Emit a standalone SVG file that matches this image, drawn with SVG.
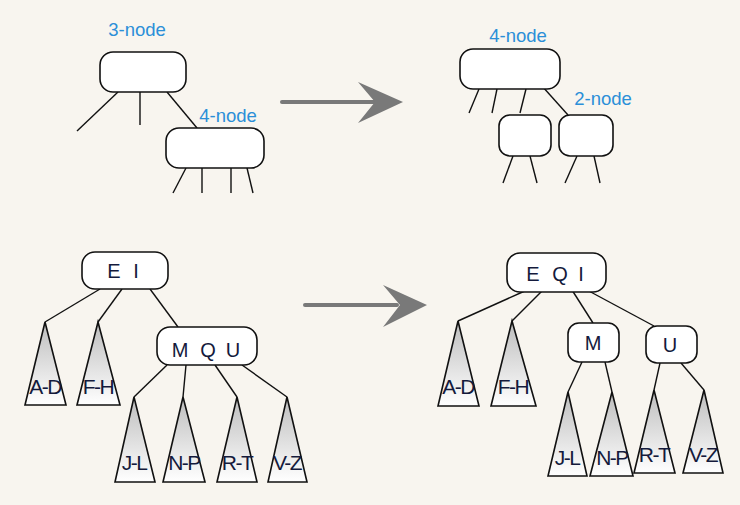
<svg xmlns="http://www.w3.org/2000/svg" width="740" height="505" viewBox="0 0 740 505">
<style>
.bg{fill:#f8f5ef}
.box{fill:#ffffff;stroke:#111;stroke-width:1.6}
.tri{fill:url(#g);stroke:#111;stroke-width:1.6;stroke-linejoin:miter}
.ln{stroke:#111;stroke-width:1.4;fill:none}
.lbl{font-family:"Liberation Sans",Arial,sans-serif;font-size:18.5px;fill:#2b8fd8;text-anchor:middle}
.key{font-family:"Liberation Sans",Arial,sans-serif;font-size:20px;fill:#141a3c;text-anchor:middle}
.rng{font-family:"Liberation Sans",Arial,sans-serif;font-size:21px;fill:#141a3c;text-anchor:middle;letter-spacing:-1.5px}
.arr{fill:#797979}
</style>
<defs>
<linearGradient id="g" x1="0" y1="0" x2="0" y2="1">
<stop offset="0" stop-color="#bdbdbd"/>
<stop offset="1" stop-color="#ffffff"/>
</linearGradient>
</defs>
<rect class="bg" x="0" y="0" width="740" height="505"/>

<g id="connectors">
<line class="ln" x1="118" y1="92" x2="77" y2="131"/>
<line class="ln" x1="140" y1="92" x2="140" y2="125"/>
<line class="ln" x1="167" y1="92" x2="197" y2="128"/>
<line class="ln" x1="186" y1="168" x2="173" y2="193"/>
<line class="ln" x1="202" y1="168" x2="202" y2="193"/>
<line class="ln" x1="231" y1="168" x2="231" y2="193"/>
<line class="ln" x1="247" y1="168" x2="253" y2="193"/>
<line class="ln" x1="479" y1="89" x2="469" y2="113"/>
<line class="ln" x1="497" y1="89" x2="492" y2="113"/>
<line class="ln" x1="526" y1="89" x2="520" y2="113"/>
<line class="ln" x1="542" y1="86" x2="568" y2="115"/>
<line class="ln" x1="513" y1="156" x2="503" y2="183"/>
<line class="ln" x1="530" y1="156" x2="537" y2="183"/>
<line class="ln" x1="577" y1="156" x2="565" y2="183"/>
<line class="ln" x1="594" y1="156" x2="600" y2="183"/>
<line class="ln" x1="100" y1="289" x2="45" y2="322"/>
<line class="ln" x1="122" y1="289" x2="98" y2="322"/>
<line class="ln" x1="150" y1="289" x2="178" y2="327"/>
<line class="ln" x1="167" y1="365" x2="134" y2="397"/>
<line class="ln" x1="186" y1="365" x2="183" y2="397"/>
<line class="ln" x1="215" y1="365" x2="237" y2="397"/>
<line class="ln" x1="242" y1="365" x2="287" y2="397"/>
<line class="ln" x1="527" y1="290" x2="458" y2="321"/>
<line class="ln" x1="543" y1="290" x2="512" y2="321"/>
<line class="ln" x1="572" y1="290" x2="593" y2="323"/>
<line class="ln" x1="587" y1="290" x2="654" y2="326"/>
<line class="ln" x1="582" y1="362" x2="568" y2="392"/>
<line class="ln" x1="605" y1="362" x2="612" y2="392"/>
<line class="ln" x1="660" y1="363" x2="654" y2="390"/>
<line class="ln" x1="681" y1="363" x2="704" y2="390"/>
<rect class="arr" x="280" y="100" width="96" height="4" rx="2"/>
<polygon class="arr" points="358,82 403,102 358,123 375,102"/>
<rect class="arr" x="303" y="303" width="96" height="4" rx="2"/>
<polygon class="arr" points="383,285 427,305 383,327 400,305"/>
</g>

<g id="label-3node"><text class="lbl" x="137" y="36">3-node</text></g>
<g id="node-3node"><rect class="box" x="100" y="52" width="86" height="40" rx="13"/></g>
<g id="label-4node-a"><text class="lbl" x="228" y="122">4-node</text></g>
<g id="node-4node-a"><rect class="box" x="166" y="128" width="98" height="40" rx="13"/></g>

<g id="label-4node-b"><text class="lbl" x="518" y="42">4-node</text></g>
<g id="node-4node-b"><rect class="box" x="460" y="49" width="100" height="40" rx="13"/></g>
<g id="node-left-small"><rect class="box" x="499" y="115" width="52" height="41" rx="11"/></g>
<g id="label-2node"><text class="lbl" x="603" y="105">2-node</text></g>
<g id="node-2node"><rect class="box" x="559" y="115" width="54" height="41" rx="11"/></g>

<g id="node-EI">
<rect class="box" x="82" y="252" width="86" height="37" rx="13"/>
<text class="key" x="114" y="278">E</text><text class="key" x="136" y="278">I</text>
</g>
<g id="tri-AD-l"><polygon class="tri" points="45,322 25,405 66,405"/><text class="rng" x="45" y="394">A-D</text></g>
<g id="tri-FH-l"><polygon class="tri" points="98,322 77,405 120,405"/><text class="rng" x="98" y="394">F-H</text></g>
<g id="node-MQU">
<rect class="box" x="157" y="327" width="100" height="38" rx="13"/>
<text class="key" x="180" y="357">M</text><text class="key" x="208" y="357">Q</text><text class="key" x="233" y="357">U</text>
</g>
<g id="tri-JL-l"><polygon class="tri" points="134,397 115,482 155,482"/><text class="rng" x="134" y="470">J-L</text></g>
<g id="tri-NP-l"><polygon class="tri" points="183,397 163,482 205,482"/><text class="rng" x="184" y="470">N-P</text></g>
<g id="tri-RT-l"><polygon class="tri" points="237,397 217,482 257,482"/><text class="rng" x="237" y="470">R-T</text></g>
<g id="tri-VZ-l"><polygon class="tri" points="287,397 268,482 307,482"/><text class="rng" x="287" y="470">V-Z</text></g>

<g id="node-EQI">
<rect class="box" x="507" y="253" width="99" height="39" rx="13"/>
<text class="key" x="533" y="281">E</text><text class="key" x="560" y="281">Q</text><text class="key" x="581" y="281">I</text>
</g>
<g id="tri-AD-r"><polygon class="tri" points="458,321 438,406 479,406"/><text class="rng" x="458" y="394">A-D</text></g>
<g id="tri-FH-r"><polygon class="tri" points="512,321 491,406 536,406"/><text class="rng" x="513" y="394">F-H</text></g>
<g id="node-M">
<rect class="box" x="568" y="323" width="51" height="39" rx="11"/>
<text class="key" x="593" y="350">M</text>
</g>
<g id="node-U">
<rect class="box" x="646" y="326" width="51" height="37" rx="11"/>
<text class="key" x="670" y="352">U</text>
</g>
<g id="tri-JL-r"><polygon class="tri" points="568,392 548,476 587,476"/><text class="rng" x="567" y="465">J-L</text></g>
<g id="tri-NP-r"><polygon class="tri" points="612,392 590,476 633,476"/><text class="rng" x="612" y="465">N-P</text></g>
<g id="tri-RT-r"><polygon class="tri" points="654,390 634,473 675,473"/><text class="rng" x="654" y="462">R-T</text></g>
<g id="tri-VZ-r"><polygon class="tri" points="704,390 683,473 723,473"/><text class="rng" x="703" y="462">V-Z</text></g>
</svg>
